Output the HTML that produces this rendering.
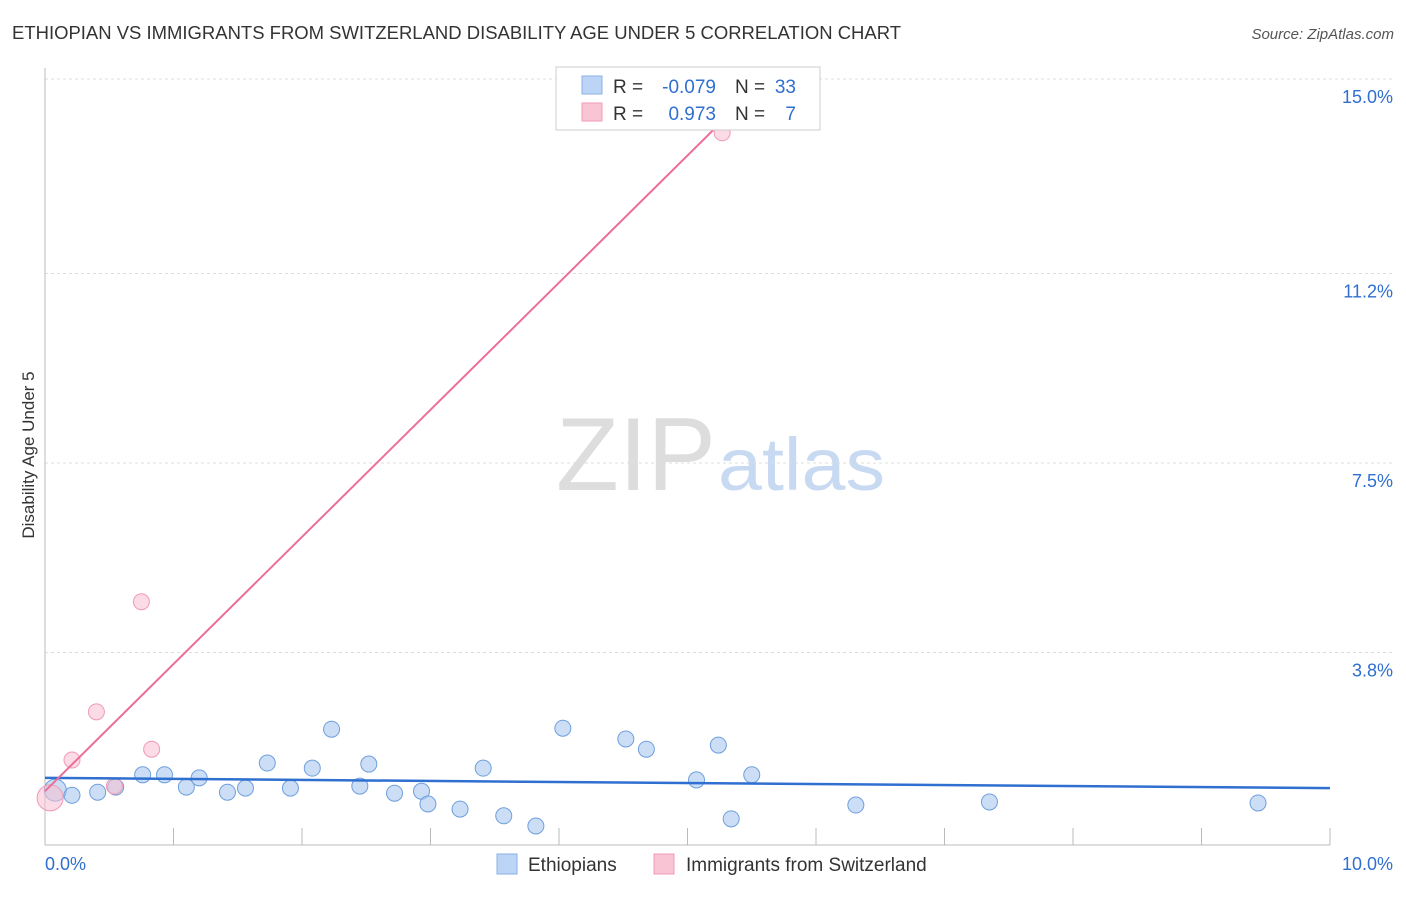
<!DOCTYPE html>
<html><head><meta charset="utf-8"><style>
body{margin:0;background:#fff;font-family:"Liberation Sans",sans-serif}
svg text{font-family:"Liberation Sans",sans-serif}
</style></head><body>
<svg width="1406" height="892" id="c">
<text x="12" y="39" font-size="18" fill="#333" textLength="889" lengthAdjust="spacingAndGlyphs">ETHIOPIAN VS IMMIGRANTS FROM SWITZERLAND DISABILITY AGE UNDER 5 CORRELATION CHART</text>
<text x="1394" y="39" font-size="15" fill="#555" text-anchor="end" font-style="italic">Source: ZipAtlas.com</text>
<text x="34" y="455" font-size="17" fill="#333" transform="rotate(-90 34 455)" text-anchor="middle">Disability Age Under 5</text>
<text x="716" y="490" font-size="104" fill="#ddd" text-anchor="end" textLength="160" lengthAdjust="spacingAndGlyphs" font-family="Liberation Serif">ZIP</text>
<text x="718" y="490" font-size="74" fill="#c8daf2" textLength="167" lengthAdjust="spacingAndGlyphs">atlas</text>
<g id="grid"></g><g id="pts"></g>
<g>
<rect x="556" y="67" width="264" height="63" fill="#fff" stroke="#ccc"/>
<rect x="582" y="76" width="20" height="18" fill="#bcd4f5" stroke="#8ab0e6"/>
<rect x="582" y="103" width="20" height="18" fill="#f9c5d4" stroke="#f09ab5"/>
<text x="613" y="93" font-size="19" fill="#333">R =</text>
<text x="716" y="93" font-size="19" fill="#2f6fd0" text-anchor="end">-0.079</text>
<text x="735" y="93" font-size="19" fill="#333">N =</text>
<text x="796" y="93" font-size="19" fill="#2f6fd0" text-anchor="end">33</text>
<text x="613" y="120" font-size="19" fill="#333">R =</text>
<text x="716" y="120" font-size="19" fill="#2f6fd0" text-anchor="end">0.973</text>
<text x="735" y="120" font-size="19" fill="#333">N =</text>
<text x="796" y="120" font-size="19" fill="#2f6fd0" text-anchor="end">7</text>
</g>
<g>
<rect x="497" y="854" width="20" height="20" fill="#bcd4f5" stroke="#8ab0e6"/>
<text x="528" y="871" font-size="19" fill="#333">Ethiopians</text>
<rect x="654" y="854" width="20" height="20" fill="#f9c5d4" stroke="#f09ab5"/>
<text x="686" y="871" font-size="19" fill="#333">Immigrants from Switzerland</text>
</g>
</svg>
<script>
const yTicks=[3.8,7.5,11.2,15.0];
const yTickLabels=["3.8%","7.5%","11.2%","15.0%"];
const blueX=[0.08,0.21,0.41,0.55,0.76,0.93,1.10,1.20,1.42,1.56,1.73,1.91,2.08,2.23,2.45,2.52,2.72,2.93,2.98,3.23,3.41,3.57,3.82,4.03,4.52,4.68,5.07,5.24,5.34,5.50,6.31,7.35,9.44];
const blueY=[1.11,1.01,1.07,1.17,1.41,1.41,1.17,1.35,1.07,1.15,1.64,1.15,1.54,2.30,1.19,1.62,1.05,1.09,0.84,0.74,1.54,0.61,0.41,2.32,2.11,1.91,1.31,1.99,0.55,1.41,0.82,0.88,0.86];
const pinkX=[0.04,0.21,0.40,0.54,0.75,0.83,5.27];
const pinkY=[0.96,1.70,2.64,1.19,4.79,1.91,13.95];
const blueLine=[[0,1.35],[10,1.15]];
const pinkLine=[[0,1.09],[5.65,15.12]];
const X=v=>45+v*128.5, Y=v=>847-v*51.2;
const NS="http://www.w3.org/2000/svg";
const g=document.getElementById('grid'),p=document.getElementById('pts');
function mk(t,a,par){const e=document.createElementNS(NS,t);for(const k in a)e.setAttribute(k,a[k]);par.appendChild(e);return e;}
yTicks.forEach((t,i)=>{const l=mk('line',{x1:45,x2:1395,y1:Y(t),y2:Y(t),stroke:'#ddd','stroke-dasharray':'3,3'},g);


const tx=mk('text',{x:1393,y:Y(t)+24,'font-size':18,fill:'#2f6fd0','text-anchor':'end'},g);tx.textContent=yTickLabels[i];

});
mk('line',{x1:45,x2:1330,y1:845,y2:845,stroke:'#bbb'},g);
mk('line',{x1:45,x2:45,y1:68,y2:845,stroke:'#bbb'},g);
for(let i=0;i<=10;i++){const l=mk('line',{x1:X(i),x2:X(i),y1:828,y2:845,stroke:'#bbb'},g);

}
const a=mk('text',{x:45,y:870,'font-size':18,fill:'#2f6fd0'},g);a.textContent='0.0%';


const b=mk('text',{x:1393,y:870,'font-size':18,fill:'#2f6fd0','text-anchor':'end'},g);b.textContent='10.0%';


blueX.forEach((x,i)=>{const c=mk('circle',{cx:X(x),cy:Y(blueY[i]),r:i==0?11:8,fill:'rgba(170,200,240,0.6)',stroke:'#6f9fdc','stroke-width':1},p);

});
pinkX.forEach((x,i)=>{const c=mk('circle',{cx:X(x),cy:Y(pinkY[i]),r:i==0?13:8,fill:'rgba(248,190,208,0.55)',stroke:'#f09ab5','stroke-width':1},p);

});
const bl=mk('line',{x1:X(blueLine[0][0]),y1:Y(blueLine[0][1]),x2:X(blueLine[1][0]),y2:Y(blueLine[1][1]),stroke:'#2f6fd0','stroke-width':2.5},p);


const pl=mk('line',{x1:X(pinkLine[0][0]),y1:Y(pinkLine[0][1]),x2:X(pinkLine[1][0]),y2:Y(pinkLine[1][1]),stroke:'#ec6e96','stroke-width':2},p);


</script>
</body></html>
